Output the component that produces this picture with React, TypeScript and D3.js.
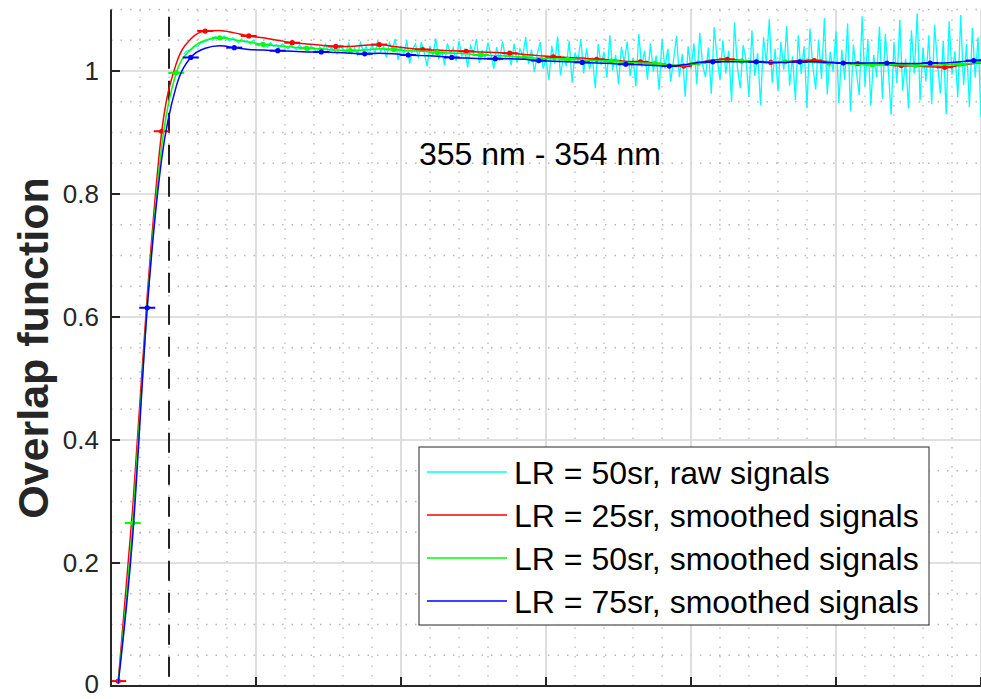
import React from "react";
import * as d3 from "d3";

// ---------- data ----------
const SMOOTH_X = [
  0.05, 0.15, 0.25, 0.35, 0.45, 0.55, 0.65, 0.75, 0.85, 0.95,
  1.05, 1.15, 1.25, 1.35, 1.45, 1.55, 1.65, 1.75, 1.85, 1.95,
  2.05, 2.15, 2.25, 2.35, 2.45, 2.55, 2.65, 2.75, 2.85, 2.95,
  3.05, 3.15, 3.25, 3.35, 3.45, 3.55, 3.65, 3.75, 3.85, 3.95,
  4.05, 4.15, 4.25, 4.35, 4.45, 4.55, 4.65, 4.75, 4.85, 4.95,
  5.05, 5.15, 5.25, 5.35, 5.45, 5.55, 5.65, 5.75, 5.85, 5.95, 6.0,
];

const LR25_SMOOTH = [
  0.008, 0.29, 0.635, 0.902, 1.012, 1.052, 1.065, 1.066, 1.062, 1.057,
  1.054, 1.05, 1.046, 1.044, 1.042, 1.04, 1.04, 1.042, 1.043, 1.04,
  1.037, 1.035, 1.034, 1.033, 1.032, 1.031, 1.03, 1.029, 1.027, 1.025,
  1.023, 1.022, 1.021, 1.019, 1.018, 1.016, 1.015, 1.013, 1.01, 1.008,
  1.013, 1.018, 1.019, 1.017, 1.015, 1.014, 1.015, 1.017, 1.017, 1.015,
  1.013, 1.012, 1.011, 1.01, 1.009, 1.008, 1.007, 1.006, 1.009, 1.012, 1.013,
];

const LR50_SMOOTH = [
  0.006, 0.265, 0.62, 0.878, 0.997, 1.035, 1.05, 1.054, 1.051, 1.047,
  1.043, 1.041, 1.039, 1.037, 1.036, 1.034, 1.033, 1.034, 1.036, 1.035,
  1.033, 1.032, 1.03, 1.029, 1.028, 1.026, 1.025, 1.024, 1.022, 1.021,
  1.02, 1.019, 1.018, 1.017, 1.016, 1.014, 1.013, 1.012, 1.01, 1.009,
  1.013, 1.016, 1.016, 1.016, 1.015, 1.015, 1.015, 1.015, 1.014, 1.013,
  1.012, 1.011, 1.01, 1.01, 1.01, 1.009, 1.009, 1.01, 1.011, 1.013, 1.014,
];

const LR75_SMOOTH = [
  0.004, 0.245, 0.615, 0.858, 0.975, 1.022, 1.037, 1.041, 1.038, 1.035,
  1.034, 1.033, 1.032, 1.031, 1.031, 1.03, 1.029, 1.028, 1.029, 1.028,
  1.026, 1.025, 1.024, 1.022, 1.021, 1.02, 1.02, 1.02, 1.019, 1.017,
  1.016, 1.015, 1.014, 1.013, 1.012, 1.011, 1.01, 1.009, 1.008, 1.01,
  1.014, 1.015, 1.015, 1.015, 1.015, 1.014, 1.014, 1.015, 1.015, 1.014,
  1.013, 1.013, 1.013, 1.013, 1.012, 1.012, 1.013, 1.013, 1.015, 1.017, 1.018,
];

const RAW_X0 = 0.5;
const RAW_STEP = 0.02;
const LR50_RAW = [
  // 0.50 - 1.78
  1.027, 1.032, 1.034, 1.036, 1.041, 1.04, 1.046, 1.047, 1.049, 1.052,
  1.05, 1.056, 1.053, 1.051, 1.057, 1.052, 1.049, 1.054, 1.05, 1.046,
  1.052, 1.047, 1.049, 1.044, 1.05, 1.045, 1.041, 1.047, 1.043, 1.039,
  1.046, 1.04, 1.043, 1.037, 1.044, 1.041, 1.036, 1.043, 1.038, 1.035,
  1.042, 1.037, 1.04, 1.033, 1.041, 1.036, 1.031, 1.039, 1.034, 1.044,
  1.03, 1.038, 1.033, 1.028, 1.042, 1.035, 1.03, 1.045, 1.029, 1.037,
  1.026, 1.046, 1.032, 1.04, 1.027,
  // 1.80 - 2.88
  1.043, 1.028, 1.049, 1.031, 1.04, 1.022, 1.046, 1.035, 1.052, 1.018,
  1.039, 1.027, 1.05, 1.012, 1.036, 1.044, 1.021, 1.047, 1.03, 1.008,
  1.041, 1.025, 1.053, 1.019, 1.034, 1.01, 1.045, 1.028, 1.038, 1.016,
  1.049, 1.024, 1.035, 1.006, 1.041, 1.029, 1.052, 1.013, 1.033, 1.02,
  1.046, 1.026, 1.004, 1.039, 1.017, 1.048, 1.022, 1.031, 1.009, 1.044,
  1.014, 1.036, 1.025, 1.055, 1.011,
  // 2.90 - 3.98
  1.035, 0.998, 1.028, 1.047, 1.004, 1.019, 0.985, 1.041, 1.012, 1.056,
  0.993, 1.024, 1.008, 1.049, 0.981, 1.03, 1.015, 1.052, 0.996, 1.037,
  1.003, 1.022, 0.972, 1.044, 1.01, 1.031, 0.989, 1.058, 1.001, 1.026,
  0.978, 1.039, 1.014, 1.048, 0.992, 1.021, 0.975, 1.06, 1.007, 1.033,
  0.986, 1.045, 0.999, 1.025, 0.969, 1.051, 1.004, 1.036, 0.983, 1.018,
  1.057, 0.99, 1.028, 0.958, 1.04,
  // 4.00 - 4.98
  1.003, 1.045, 0.978, 1.062, 1.01, 0.99, 1.038, 0.963, 1.071, 1.021,
  0.985, 1.05, 0.996, 1.033, 0.95, 1.079, 1.006, 0.972, 1.042, 1.017,
  0.958, 1.066, 0.992, 1.029, 0.944, 1.055, 1.011, 1.084, 0.981, 1.036,
  0.967, 1.047, 1.002, 1.073, 0.976, 1.024, 0.953, 1.058, 0.995, 1.04,
  0.94, 1.069, 1.008, 0.97, 1.051, 0.987, 1.086, 0.962, 1.031, 0.999,
  // 5.00 - 6.00
  1.064, 0.948, 1.035, 0.986, 1.077, 0.934, 1.043, 1.0, 0.961, 1.089,
  0.975, 1.052, 0.944, 1.026, 0.99, 1.072, 0.955, 1.06, 1.005, 0.929,
  1.047, 0.98, 1.083, 0.968, 1.02, 0.939, 1.066, 0.996, 1.094, 0.952,
  1.038, 0.983, 1.058, 0.946, 1.075, 1.011, 0.963, 1.049, 0.93, 1.081,
  0.994, 1.032, 0.957, 1.091, 0.977, 1.044, 0.941, 1.07, 0.989, 1.055,
  0.925,
];

const Y_TICKS = [0, 0.2, 0.4, 0.6, 0.8, 1];
const Y_TICK_LABELS = ["0", "0.2", "0.4", "0.6", "0.8", "1"];
const X_MAJOR = [1, 2, 3, 4, 5, 6];
const OVERLAP_LIMIT_X = 0.4;
const MARKER_XERR = 0.055;

const LEGEND_LABELS = [
  "LR = 50sr, raw signals",
  "LR = 25sr, smoothed signals",
  "LR = 50sr, smoothed signals",
  "LR = 75sr, smoothed signals",
];
const ANNOTATION = "355 nm - 354 nm";
const Y_LABEL = "Overlap function";

// ---------- layout ----------
const W = 981;
const H = 699;
const FONT = "'Liberation Sans', Arial, Helvetica, sans-serif";
const AXIS_COLOR = "#262626";

export default function App() {
  const x = d3.scaleLinear().domain([0, 6]).range([111, 981]);
  const y = d3.scaleLinear().domain([0, 1.1]).range([686, 9.5]);

  const line = d3
    .line<[number, number]>()
    .x((d) => x(d[0]))
    .y((d) => y(d[1]))
    .curve(d3.curveMonotoneX);

  const rawLine = d3
    .line<[number, number]>()
    .x((d) => x(d[0]))
    .y((d) => y(d[1]));

  const rawPts: [number, number][] = LR50_RAW.map((v, i) => [RAW_X0 + i * RAW_STEP, v]);

  const smoothSeries = [
    { data: LR25_SMOOTH, color: "#ff0000", offset: 0 },
    { data: LR50_SMOOTH, color: "#00ff00", offset: 1 },
    { data: LR75_SMOOTH, color: "#0000ff", offset: 2 },
  ];

  const xMinor = d3.range(1, 30).map((i) => i * 0.2).filter((v) => Math.abs(v - Math.round(v)) > 1e-6);
  const yMinor = d3.range(1, 23).map((i) => i * 0.05).filter((v) => Math.abs(v * 5 - Math.round(v * 5)) > 1e-6);
  const yMajorGrid = [0.2, 0.4, 0.6, 0.8, 1.0];

  const [x0, x1] = x.range();
  const [y0, y1] = y.range();

  const legendColors = ["#00ffff", "#ff0000", "#00ff00", "#0000ff"];

  return (
    <div style={{ position: "fixed", left: 0, top: 0, width: W, height: H, background: "#fff" }}>
      <svg width={W} height={H} style={{ display: "block" }}>
        <rect x={0} y={0} width={W} height={H} fill="#fff" />
        {/* minor grid */}
        <g stroke="#b8b8b8" strokeWidth={1.3} strokeDasharray="1.5,8">
          {xMinor.map((v) => (
            <line key={"xm" + v} x1={x(v)} x2={x(v)} y1={y0} y2={y1} />
          ))}
          {yMinor.map((v) => (
            <line key={"ym" + v} x1={x0} x2={x1} y1={y(v)} y2={y(v)} />
          ))}
        </g>
        {/* major grid */}
        <g stroke="#d6d6d6" strokeWidth={1.6}>
          {X_MAJOR.map((v) => (
            <line key={"xM" + v} x1={x(v)} x2={x(v)} y1={y0} y2={y1} />
          ))}
          {yMajorGrid.map((v) => (
            <line key={"yM" + v} x1={x0} x2={x1} y1={y(v)} y2={y(v)} />
          ))}
        </g>

        {/* dashed overlap limit */}
        <line
          x1={x(OVERLAP_LIMIT_X)}
          x2={x(OVERLAP_LIMIT_X)}
          y1={y(0.015)}
          y2={y(1.09)}
          stroke="#222"
          strokeWidth={2}
          strokeDasharray="20,12"
        />

        {/* raw */}
        <path d={rawLine(rawPts) || ""} fill="none" stroke="#00ffff" strokeWidth={1.3} />

        {/* smoothed series */}
        {smoothSeries.map((s) => {
          const pts: [number, number][] = s.data.map((v, i) => [SMOOTH_X[i], v]);
          const markers = pts.filter((_, i) => i < 60 && i % 3 === s.offset);
          return (
            <g key={s.color}>
              <path d={line(pts) || ""} fill="none" stroke={s.color} strokeWidth={1.5} />
              {markers.map((p, j) => (
                <g key={j}>
                  <line
                    x1={x(p[0] - MARKER_XERR)}
                    x2={x(p[0] + MARKER_XERR)}
                    y1={y(p[1])}
                    y2={y(p[1])}
                    stroke={s.color}
                    strokeWidth={2}
                  />
                  <circle cx={x(p[0])} cy={y(p[1])} r={2.6} fill={s.color} />
                </g>
              ))}
            </g>
          );
        })}

        {/* axes */}
        <g stroke={AXIS_COLOR} strokeWidth={2}>
          <line x1={x0} x2={x0} y1={y1} y2={y0 + 1} />
          <line x1={x0 - 1} x2={x1} y1={y0} y2={y0} />
          {Y_TICKS.map((v) => (
            <line key={"yt" + v} x1={x0} x2={x0 + 9} y1={y(v)} y2={y(v)} />
          ))}
          {X_MAJOR.map((v) => (
            <line key={"xt" + v} x1={x(v)} x2={x(v)} y1={y0} y2={y0 - 9} />
          ))}
        </g>
        <g fontFamily={FONT} fontSize={26} fill={AXIS_COLOR} textAnchor="end">
          {Y_TICKS.map((v, i) => (
            <text key={"yl" + v} x={99} y={Math.min(y(v), 684)} dy="0.36em">
              {Y_TICK_LABELS[i]}
            </text>
          ))}
        </g>
        <text
          transform={`translate(48,348) rotate(-90)`}
          textAnchor="middle"
          fontFamily={FONT}
          fontWeight="bold"
          fontSize={43}
          fill={AXIS_COLOR}
        >
          {Y_LABEL}
        </text>

        {/* annotation */}
        <text x={419} y={165} fontFamily={FONT} fontSize={32} fill="#000">
          {ANNOTATION}
        </text>

        {/* legend */}
        <g>
          <rect x={419} y={447} width={510} height={178} fill="#fff" stroke="#262626" strokeWidth={1} />
          {LEGEND_LABELS.map((lab, i) => {
            const ry = 472 + i * 43;
            return (
              <g key={lab}>
                <line x1={427} x2={507} y1={ry} y2={ry} stroke={legendColors[i]} strokeWidth={1.5} />
                <text x={514} y={ry + 11.5} fontFamily={FONT} fontSize={32} fill="#000">
                  {lab}
                </text>
              </g>
            );
          })}
        </g>
      </svg>
    </div>
  );
}
